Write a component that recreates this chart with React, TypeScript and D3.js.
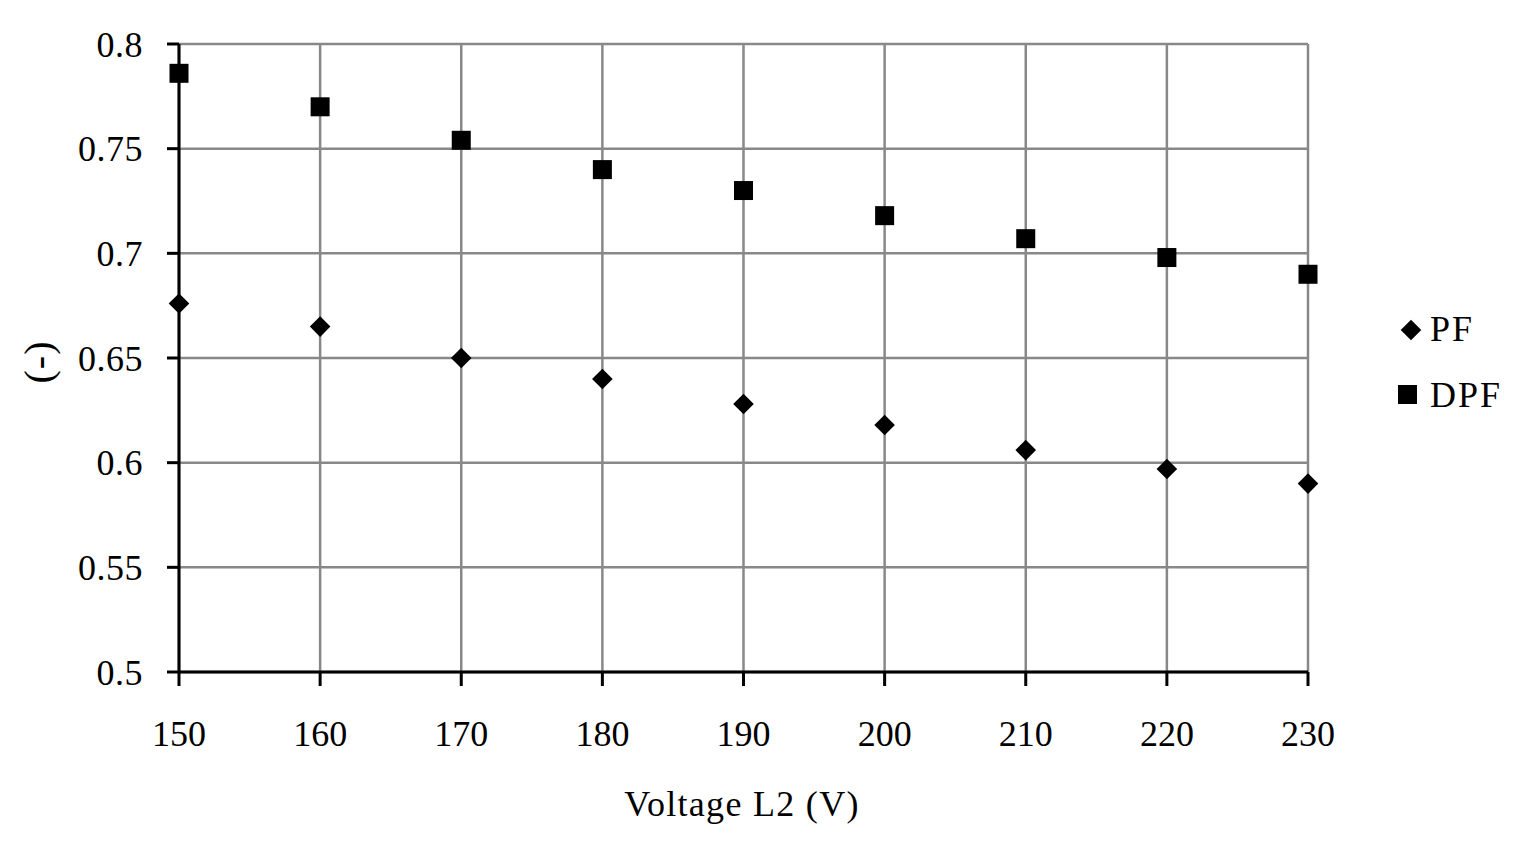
import React from 'react';
import * as d3 from 'd3';

const voltages = [150, 160, 170, 180, 190, 200, 210, 220, 230];
const pfValues = [0.676, 0.665, 0.650, 0.640, 0.628, 0.618, 0.606, 0.597, 0.590];
const dpfValues = [0.786, 0.770, 0.754, 0.740, 0.730, 0.718, 0.707, 0.698, 0.690];
const yTicks = [0.5, 0.55, 0.6, 0.65, 0.7, 0.75, 0.8];

const W = 1520;
const H = 841;
const margin = { left: 179, right: 212, top: 44, bottom: 169 };
const font = '"Liberation Serif", "Times New Roman", serif';

const App = () => {
  const x = d3.scaleLinear().domain([150, 230]).range([margin.left, W - margin.right]);
  const y = d3.scaleLinear().domain([0.5, 0.8]).range([H - margin.bottom, margin.top]);
  const diamond = d3.symbol().type(d3.symbolDiamond2).size(270)();
  const fmt = (v: number) => String(+v.toFixed(2));

  return (
    <svg width={W} height={H} style={{ position: 'absolute', left: 0, top: 0, background: '#fff' }}>
      {/* grid */}
      {yTicks.map((t) => (
        <line key={'gy' + t} x1={x(150)} x2={x(230)} y1={y(t)} y2={y(t)} stroke="#888" strokeWidth={2.5} />
      ))}
      {voltages.map((v) => (
        <line key={'gx' + v} x1={x(v)} x2={x(v)} y1={y(0.5)} y2={y(0.8)} stroke="#888" strokeWidth={2.5} />
      ))}
      {/* axes */}
      <line x1={x(150)} x2={x(150)} y1={y(0.5)} y2={y(0.8)} stroke="#000" strokeWidth={3} />
      <line x1={x(150)} x2={x(230)} y1={y(0.5)} y2={y(0.5)} stroke="#000" strokeWidth={3} />
      {yTicks.map((t) => (
        <g key={'ty' + t}>
          <line x1={x(150) - 12} x2={x(150)} y1={y(t)} y2={y(t)} stroke="#000" strokeWidth={3} />
          <text x={143} y={y(t)} dy="0.35em" textAnchor="end" fontFamily={font} fontSize={36} letterSpacing={0.5}>{fmt(t)}</text>
        </g>
      ))}
      {voltages.map((v) => (
        <g key={'tx' + v}>
          <line x1={x(v)} x2={x(v)} y1={y(0.5)} y2={y(0.5) + 14} stroke="#000" strokeWidth={3} />
          <text x={x(v)} y={733} dy="0.35em" textAnchor="middle" fontFamily={font} fontSize={36}>{v}</text>
        </g>
      ))}
      <text x={742} y={803} dy="0.35em" textAnchor="middle" fontFamily={font} fontSize={36} letterSpacing={1.3}>Voltage L2 (V)</text>
      <text transform="translate(38,362) rotate(-90)" dy="0.35em" textAnchor="middle" fontFamily={font} fontSize={40} letterSpacing={1}>(-)</text>
      {/* marks */}
      {voltages.map((v, i) => (
        <rect key={'d' + v} x={x(v) - 9.5} y={y(dpfValues[i]) - 9.5} width={19} height={19} fill="#000" />
      ))}
      {voltages.map((v, i) => (
        <path key={'p' + v} d={diamond} transform={`translate(${x(v)},${y(pfValues[i])})`} fill="#000" />
      ))}
      {/* legend */}
      <path d={diamond} transform="translate(1411,330)" fill="#000" />
      <text x={1430} y={328} dy="0.35em" fontFamily={font} fontSize={36} letterSpacing={2}>PF</text>
      <rect x={1398} y={385} width={19} height={19} fill="#000" />
      <text x={1430} y={394} dy="0.35em" fontFamily={font} fontSize={36} letterSpacing={2}>DPF</text>
    </svg>
  );
};

export default App;
